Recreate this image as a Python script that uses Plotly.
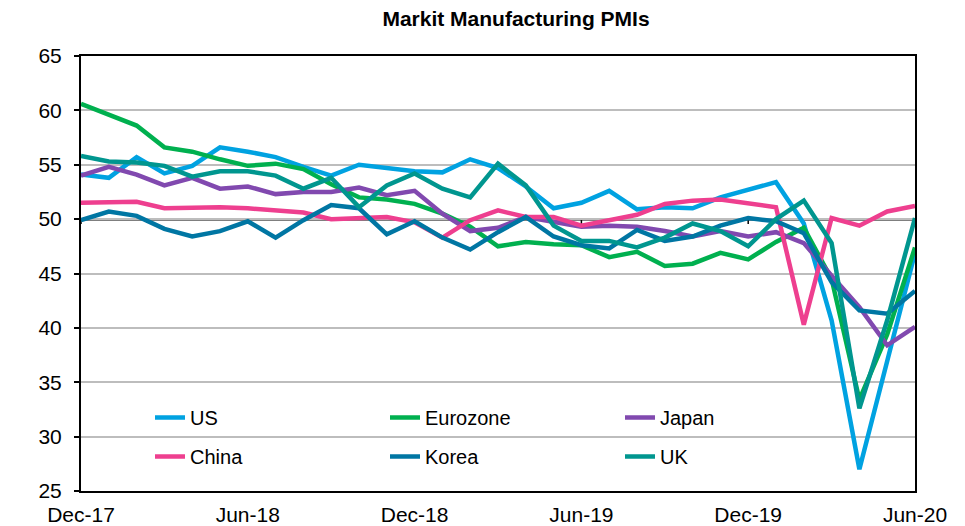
import plotly.graph_objects as go

months = ['Dec-17', 'Jan-18', 'Feb-18', 'Mar-18', 'Apr-18', 'May-18', 'Jun-18', 'Jul-18',
          'Aug-18', 'Sep-18', 'Oct-18', 'Nov-18', 'Dec-18', 'Jan-19', 'Feb-19', 'Mar-19',
          'Apr-19', 'May-19', 'Jun-19', 'Jul-19', 'Aug-19', 'Sep-19', 'Oct-19', 'Nov-19',
          'Dec-19', 'Jan-20', 'Feb-20', 'Mar-20', 'Apr-20', 'May-20', 'Jun-20']

us = [54.1, 53.8, 55.7, 54.2, 54.9, 56.6, 56.2, 55.7, 54.8, 54.0, 55.0, 54.7, 54.4, 54.3,
      55.5, 54.7, 53.0, 51.0, 51.5, 52.6, 50.9, 51.1, 51.0, 52.0, 52.7, 53.4, 49.6, 40.7,
      27.0, 37.0, 46.9]
eurozone = [60.6, 59.6, 58.6, 56.6, 56.2, 55.5, 54.9, 55.1, 54.6, 53.2, 52.0, 51.8, 51.4,
            50.5, 49.3, 47.5, 47.9, 47.7, 47.6, 46.5, 47.0, 45.7, 45.9, 46.9, 46.3, 47.9,
            49.2, 44.5, 33.4, 39.4, 47.4]
japan = [54.0, 54.8, 54.1, 53.1, 53.8, 52.8, 53.0, 52.3, 52.5, 52.5, 52.9, 52.2, 52.6, 50.5,
         48.9, 49.2, 50.2, 49.8, 49.3, 49.4, 49.3, 48.9, 48.4, 48.9, 48.4, 48.8, 47.8, 44.8,
         41.9, 38.4, 40.1]
china = [51.5, 51.5, 51.6, 51.0, 51.1, 51.1, 51.0, 50.8, 50.6, 50.0, 50.1, 50.2, 49.7, 48.3,
         49.9, 50.8, 50.2, 50.2, 49.4, 49.9, 50.4, 51.4, 51.7, 51.8, 51.5, 51.1, 40.3, 50.1,
         49.4, 50.7, 51.2]
korea = [49.9, 50.7, 50.3, 49.1, 48.4, 48.9, 49.8, 48.3, 49.9, 51.3, 51.0, 48.6, 49.8, 48.3,
         47.2, 48.8, 50.2, 48.4, 47.6, 47.3, 49.0, 48.0, 48.4, 49.4, 50.1, 49.8, 48.7, 44.2,
         41.6, 41.3, 43.4]
uk = [55.8, 55.3, 55.2, 54.9, 53.9, 54.4, 54.4, 54.0, 52.8, 53.8, 51.1, 53.1, 54.2, 52.8,
      52.0, 55.1, 53.1, 49.4, 48.0, 48.0, 47.4, 48.3, 49.6, 48.9, 47.5, 50.0, 51.7, 47.8,
      32.6, 40.7, 50.1]

tick_labels = ['Dec-17', 'Jun-18', 'Dec-18', 'Jun-19', 'Dec-19', 'Jun-20']
y_ticks = [25, 30, 35, 40, 45, 50, 55, 60, 65]

series = [
    ('US', us, '#00A2E1', 'legend'),
    ('Eurozone', eurozone, '#00B04F', 'legend'),
    ('Japan', japan, '#8149AF', 'legend'),
    ('China', china, '#EE3F8F', 'legend2'),
    ('Korea', korea, '#0076A3', 'legend2'),
    ('UK', uk, '#00968F', 'legend2'),
]

FONT = 'Arial, Liberation Sans, sans-serif'

fig = go.Figure()
for name, vals, color, leg in series:
    fig.add_trace(go.Scatter(
        x=months, y=vals, name=name, mode='lines', legend=leg,
        line=dict(color=color, width=4.5),
    ))

# x-axis crossing line at 50
fig.add_shape(type='line', xref='paper', yref='y', x0=0, x1=1, y0=50, y1=50,
              line=dict(color='black', width=2.5), layer='below')
for t in tick_labels:
    fig.add_shape(type='line', xref='x', yref='y', x0=t, x1=t, y0=50, y1=49.55,
                  line=dict(color='black', width=1.5), layer='below')

fig.update_layout(
    width=965, height=526,
    margin=dict(l=81, r=50, t=56, b=35, autoexpand=False),
    paper_bgcolor='white', plot_bgcolor='white',
    font=dict(family=FONT, color='black', size=21),
    title=dict(text='<b>Markit Manufacturing PMIs</b>', x=516 / 965, xanchor='center',
               y=1 - 19 / 526, yanchor='middle', xref='container', yref='container',
               font=dict(family=FONT, size=21, color='black')),
    showlegend=True,
    legend=dict(orientation='h', x=69 / 834, xanchor='left', y=(491 - 417.5) / 435,
                yanchor='middle', entrywidth=190, entrywidthmode='pixels',
                bgcolor='rgba(0,0,0,0)', font=dict(family=FONT, size=20)),
    legend2=dict(orientation='h', x=69 / 834, xanchor='left', y=(491 - 456.5) / 435,
                 yanchor='middle', entrywidth=190, entrywidthmode='pixels',
                 bgcolor='rgba(0,0,0,0)', font=dict(family=FONT, size=20)),
)

fig.update_xaxes(
    type='category', categoryorder='array', categoryarray=months,
    range=[0, len(months) - 1], automargin=False,
    tickmode='array', tickvals=tick_labels, ticktext=tick_labels,
    ticks='', showgrid=False, zeroline=False,
    showline=True, linecolor='black', linewidth=2, mirror=True,
    ticklabelstandoff=4, tickfont=dict(size=21),
)
fig.update_yaxes(
    range=[25, 65], tickmode='array', tickvals=y_ticks, automargin=False,
    ticks='outside', ticklen=5, tickcolor='black', tickwidth=1.5,
    showgrid=True, gridcolor='#BDBDBD', gridwidth=1.5, zeroline=False,
    showline=True, linecolor='black', linewidth=2, mirror=True,
    ticklabelstandoff=8, tickfont=dict(size=21),
)

fig.write_html('out.html', config={'displayModeBar': False},
               post_script="document.body.style.margin='0';document.body.style.overflow='hidden';")
